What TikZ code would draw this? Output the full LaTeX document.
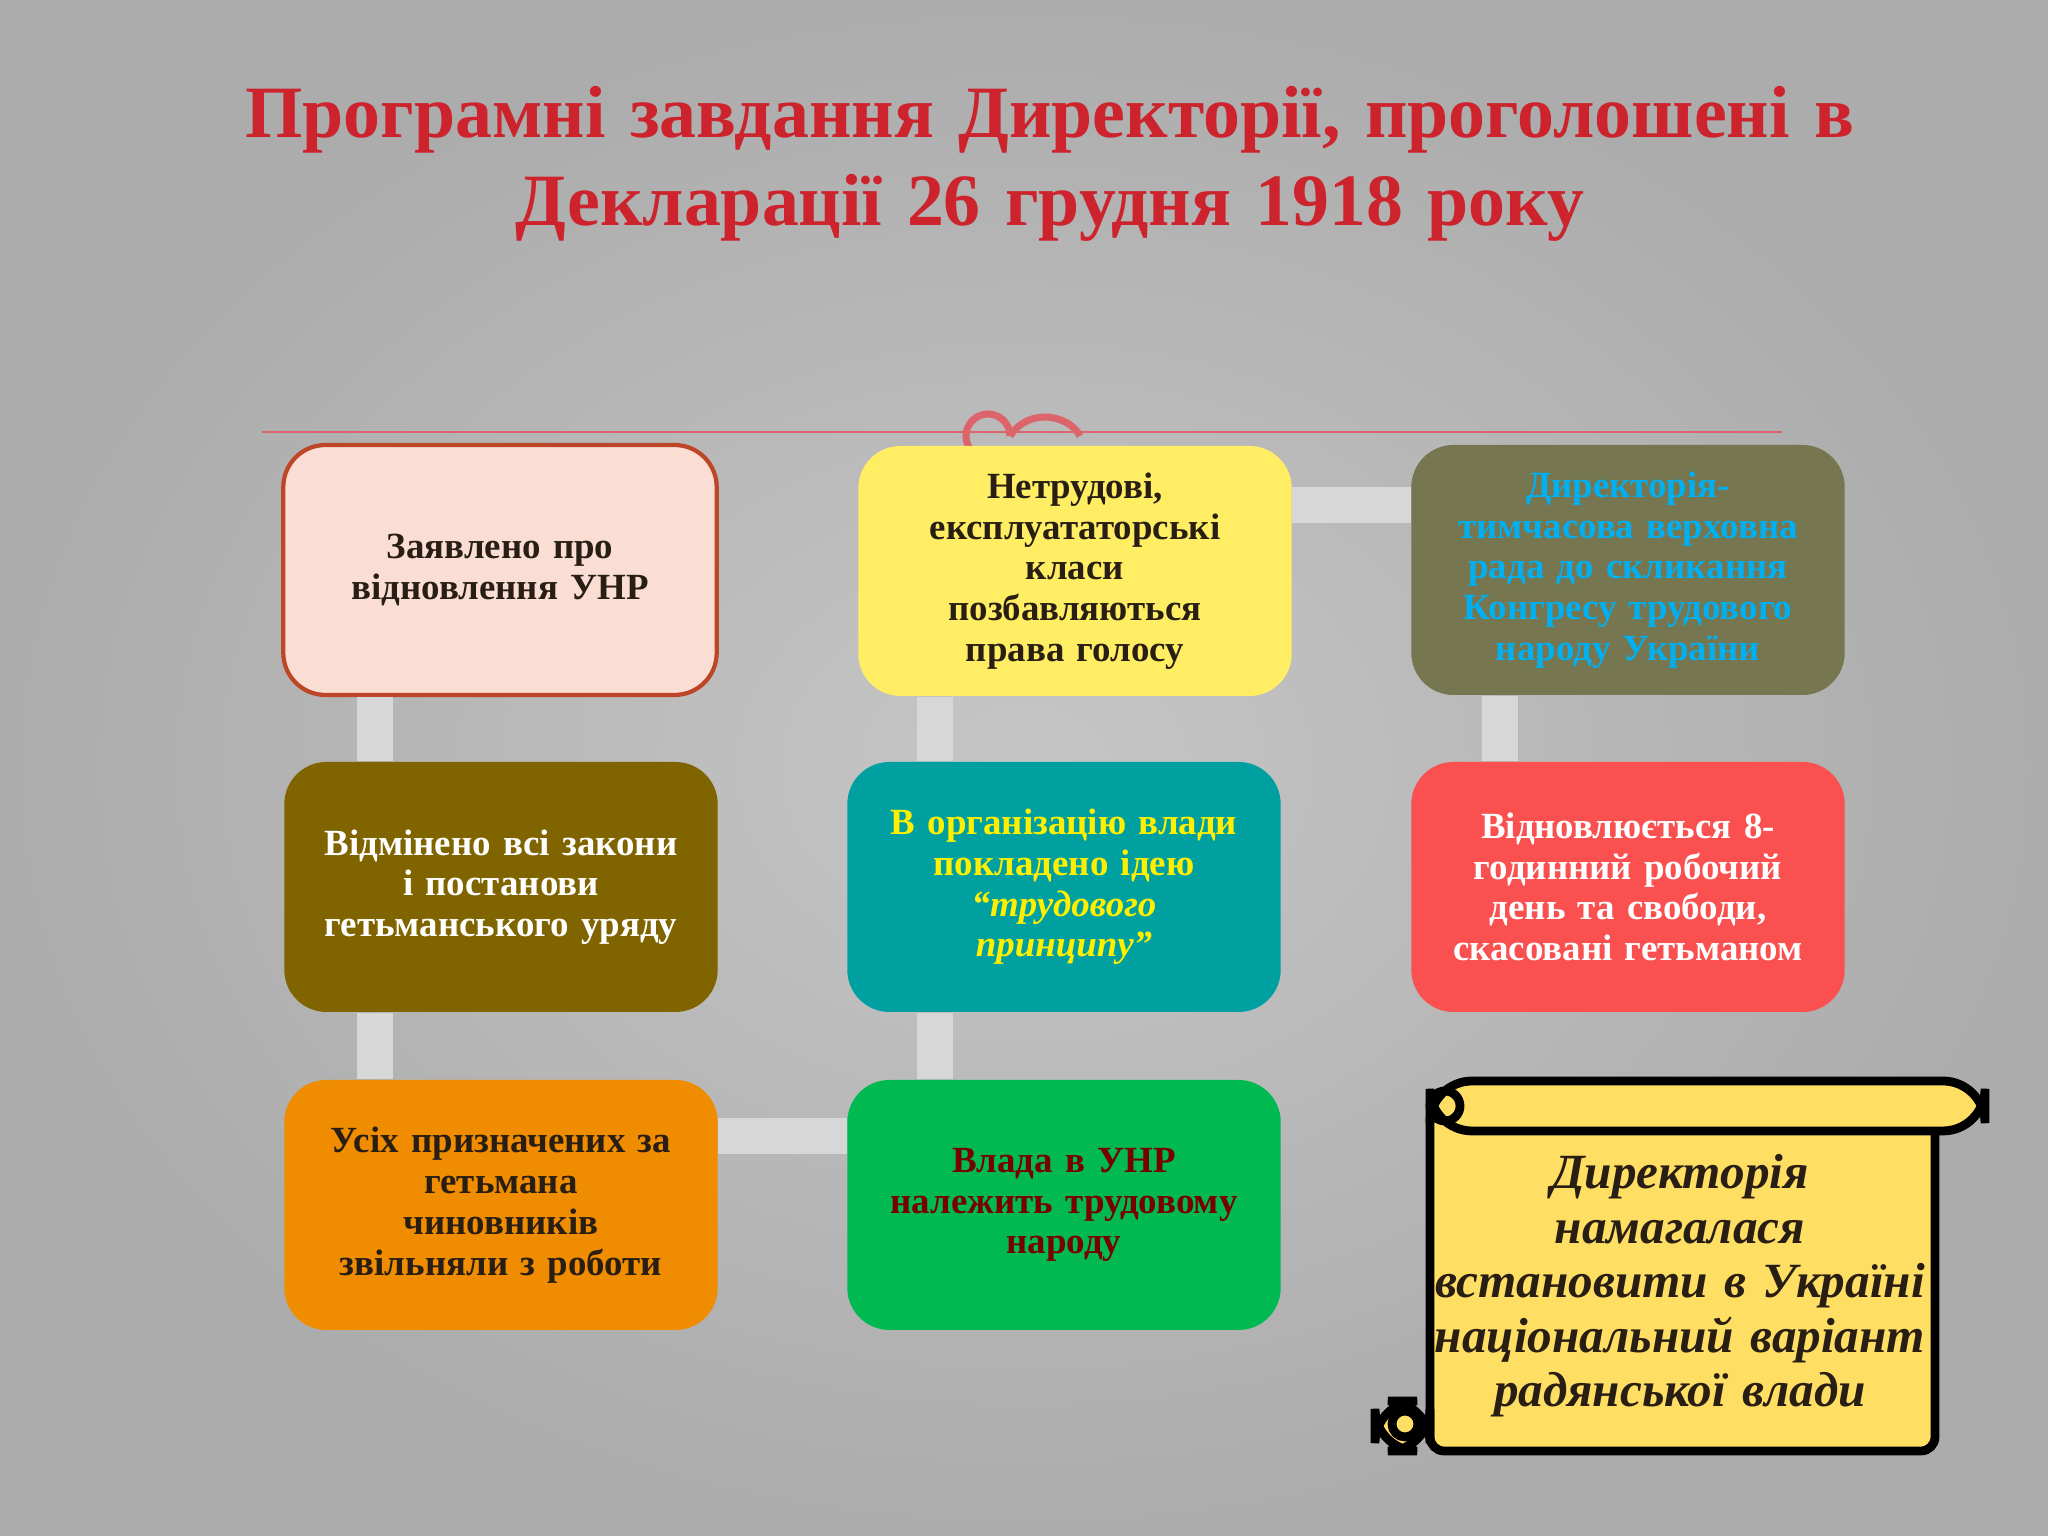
\documentclass[tikz,border=0pt]{standalone}
\usepackage{fontspec}
\setmainfont{Liberation Serif}
\usetikzlibrary{positioning}
\definecolor{bgcol}{RGB}{172,172,172}
\definecolor{titlered}{RGB}{205,35,45}
\definecolor{linkcol}{RGB}{215,215,215}
\definecolor{c1}{RGB}{250,222,212}
\definecolor{c1b}{RGB}{190,70,40}
\definecolor{c2}{RGB}{255,238,100}
\definecolor{c3}{RGB}{118,118,80}
\definecolor{t3}{RGB}{0,176,240}
\definecolor{c4}{RGB}{128,100,0}
\definecolor{c5}{RGB}{0,160,160}
\definecolor{t5}{RGB}{255,240,0}
\definecolor{c6}{RGB}{250,80,80}
\definecolor{c7}{RGB}{240,140,0}
\definecolor{c8}{RGB}{0,185,80}
\definecolor{t8}{RGB}{120,0,0}
\definecolor{scrollcol}{RGB}{255,222,100}
\definecolor{dark}{RGB}{40,30,20}
\begin{document}
\begin{tikzpicture}
	[every node/.style={rounded corners=12pt,minimum width=4.2cm,minimum height=2.5cm,text width=4.1cm,align=center,font=\bfseries\fontsize{10.5}{11.6}\selectfont}]
	\useasboundingbox (0,0) rectangle (20.48,15.36);
	\shade[inner color=gray!45,outer color=bgcol] (0,0) rectangle (20.48,15.36);
	\node[style={draw=none,text width=20cm,font=\bfseries\fontsize{21}{25}\selectfont,text=titlered}] (title) at (10.5,13.72) {Програмні завдання Директорії, проголошені в\\ Декларації 26 грудня 1918 року};
	\draw[titlered!70,line width=0.6pt] (2.62,11.04) -- (17.82,11.04);
	\draw[titlered!70,line width=2pt] (10.1,11.0) arc (0:300:0.22) (10.1,11.0) .. controls (10.3,11.3) and (10.7,11.2) .. (10.8,11.0);
	% boxes
	\node[style={fill=c1,draw=c1b,line width=1.2pt,text=dark}] (b1) at (5.0,9.66) {Заявлено про\\ відновлення УНР};
	\node[style={fill=c2,text=dark}] (b2) at (10.75,9.65) {Нетрудові,\\ експлуататорські\\ класи\\ позбавляються\\ права голосу};
	\node[style={fill=c3,text=t3}] (b3) at (16.28,9.66) {Директорія-\\ тимчасова верховна\\ рада до скликання\\ Конгресу трудового\\ народу України};
	\node[style={fill=c4,text=white}] (b4) at (5.01,6.49) {Відмінено всі закони\\ і постанови\\ гетьманського уряду};
	\node[style={fill=c5,text=t5}] (b5) at (10.64,6.49) {В організацію влади\\ покладено ідею\\ \textit{“трудового}\\ \textit{принципу”}};
	\node[style={fill=c6,text=white}] (b6) at (16.28,6.49) {Відновлюється 8-\\ годинний робочий\\ день та свободи,\\ скасовані гетьманом};
	\node[style={fill=c7,text=dark}] (b7) at (5.01,3.31) {Усіх призначених за\\ гетьмана\\ чиновників\\ звільняли з роботи};
	\node[style={fill=c8,text=t8}] (b8) at (10.64,3.31) {Влада в УНР\\ належить трудовому\\ народу\\[1.1em]};
	% links
	\begin{scope}[linkcol,line width=10pt]
	\draw (b1.south -| 3.75,0) -- (b4.north -| 3.75,0);
	\draw (b4.south -| 3.75,0) -- (b7.north -| 3.75,0);
	\draw (b7.east |- 0,4.0) -- (b8.west |- 0,4.0);
	\draw (b8.north -| 9.35,0) -- (b5.south -| 9.35,0);
	\draw (b5.north -| 9.35,0) -- (b2.south -| 9.35,0);
	\draw (b2.east |- 0,10.31) -- (b3.west |- 0,10.31);
	\draw (b3.south -| 15.0,0) -- (b6.north -| 15.0,0);
	\end{scope}
	% scroll
	\draw[fill=scrollcol,line width=2.5pt,rounded corners=4pt] (14.3,0.85) -- (14.3,4.3) -- (19.35,4.3) -- (19.35,0.85) -- cycle;
	\draw[fill=scrollcol,line width=2.5pt,rounded corners=12pt] (14.3,4.05) rectangle (19.85,4.55);
	\draw[line width=2.5pt] (14.45,4.3) circle (0.15);
	\draw[fill=scrollcol,line width=2.5pt,rounded corners=12pt] (13.75,0.85) rectangle (14.3,1.35);
	\draw[line width=2.5pt] (14.05,1.12) circle (0.13);
	\node[style={draw=none,text width=5.2cm,font=\bfseries\itshape\fontsize{14}{15.5}\selectfont,text=dark}] (note) at (16.8,2.5) {Директорія\\ намагалася\\ встановити в Україні\\ національний варіант\\ радянської влади};
\end{tikzpicture}
\end{document}
